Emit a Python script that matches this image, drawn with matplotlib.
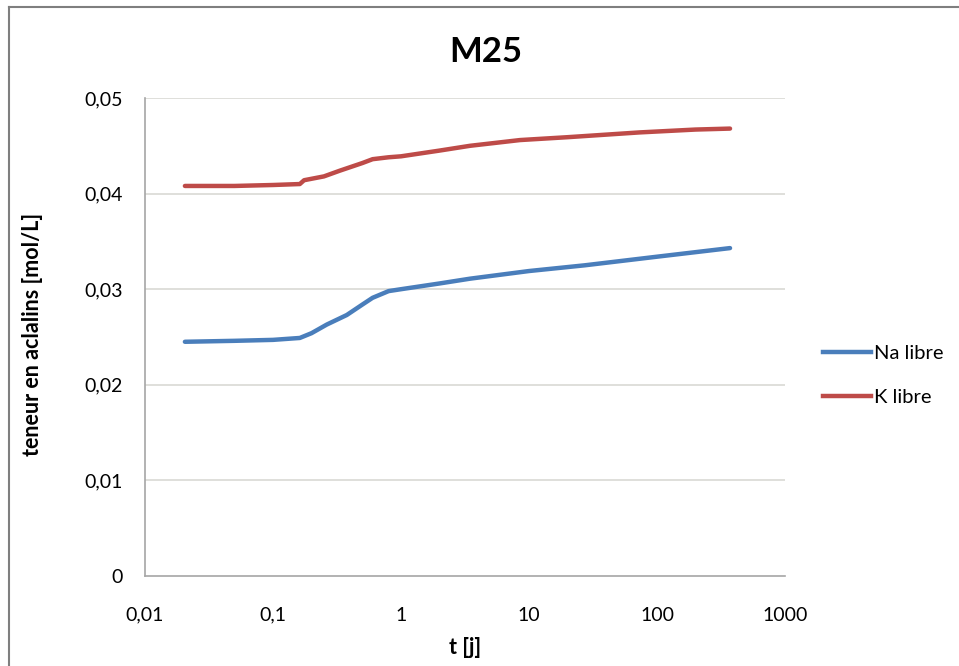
import matplotlib
matplotlib.use("Agg")
import matplotlib.pyplot as plt
from matplotlib.lines import Line2D
from matplotlib.ticker import FixedLocator, NullLocator

plt.rcParams['font.family'] = ['Lato', 'DejaVu Sans']

# Data
t_na = [0.0205, 0.05, 0.1, 0.162, 0.2, 0.263, 0.377, 0.5, 0.6, 0.8, 1.0, 2.0, 3.46, 10, 27.3, 100, 372]
na = [0.0245, 0.0246, 0.0247, 0.0249, 0.0254, 0.0263, 0.0273, 0.0284, 0.0291, 0.0298, 0.0300, 0.0306, 0.0311, 0.0319, 0.0325, 0.0334, 0.0343]

t_k = [0.0205, 0.05, 0.1, 0.162, 0.175, 0.25, 0.333, 0.5, 0.6, 0.8, 1.0, 2.0, 3.46, 8.5, 20, 73, 200, 372]
k = [0.0408, 0.0408, 0.0409, 0.0410, 0.0414, 0.0418, 0.0424, 0.0432, 0.0436, 0.0438, 0.0439, 0.0445, 0.0450, 0.0456, 0.0459, 0.0464, 0.0467, 0.0468]

series_labels = ["Na libre", "K libre"]
xticks = [0.01, 0.1, 1, 10, 100, 1000]
xticklabels = ["0,01", "0,1", "1", "10", "100", "1000"]
yticks = [0, 0.01, 0.02, 0.03, 0.04, 0.05]
yticklabels = ["0", "0,01", "0,02", "0,03", "0,04", "0,05"]

blue = "#4A7EBB"
red = "#BE4B48"

fig = plt.figure(figsize=(9.59, 6.66), dpi=100)
W, H = 959, 666
ax = fig.add_axes([145 / W, 1 - 576 / H, (785 - 145) / W, (576 - 98) / H])

ax.plot(t_na, na, color=blue, lw=3.2, solid_capstyle='round')
ax.plot(t_k, k, color=red, lw=3.2, solid_capstyle='round')

ax.set_xscale('log')
ax.set_xlim(0.01, 1000)
ax.set_ylim(0, 0.05)
ax.xaxis.set_major_locator(FixedLocator(xticks))
ax.xaxis.set_minor_locator(NullLocator())
ax.set_xticklabels(xticklabels)
ax.set_yticks(yticks)
ax.set_yticklabels(yticklabels)
ax.tick_params(axis='both', length=0, labelsize=14, colors='black')
ax.tick_params(axis='x', pad=22)
ax.tick_params(axis='y', pad=16)

for y in yticks[1:]:
    ax.axhline(y, color='#D9D9D4', lw=1.2, zorder=0)

for s in ['top', 'right']:
    ax.spines[s].set_visible(False)
for s in ['left', 'bottom']:
    ax.spines[s].set_color('#A6A6A6')
    ax.spines[s].set_linewidth(1.2)

fig.text(486 / W, 1 - 52 / H, "M25", fontsize=25, fontweight='bold', ha='center', va='center')
fig.text(465 / W, 1 - 647 / H, "t [j]", fontsize=15.5, fontweight='bold', ha='center', va='center')
fig.text(33 / W, 1 - 334 / H, "teneur en aclalins [mol/L]", fontsize=15.5, fontweight='bold',
         ha='center', va='center', rotation=90)

handles = [Line2D([], [], color=blue, lw=3.2), Line2D([], [], color=red, lw=3.2)]
leg = fig.legend(handles, series_labels, loc='upper left', bbox_to_anchor=(815 / W, 1 - 337 / H),
                 frameon=False, fontsize=14.5, handlelength=2.4, handletextpad=0.12,
                 labelspacing=1.32, borderaxespad=0)

# Figure border (left and top visible)
fig.add_artist(Line2D([9 / W, 9 / W], [0, 1 - 7 / H], color='#7F7F7F', lw=1.5, transform=fig.transFigure))
fig.add_artist(Line2D([9 / W, 1], [1 - 7 / H, 1 - 7 / H], color='#7F7F7F', lw=1.5, transform=fig.transFigure))

fig.savefig("out.png", dpi=100)
